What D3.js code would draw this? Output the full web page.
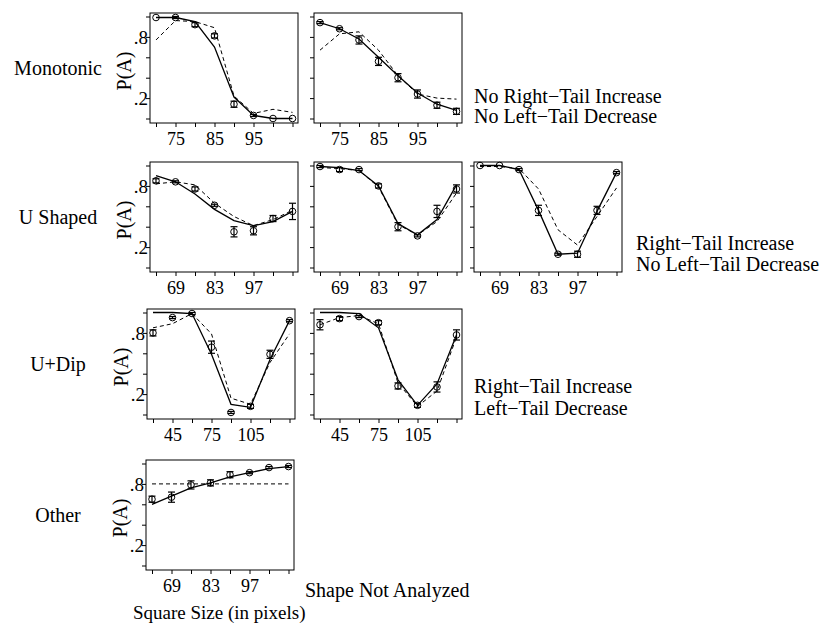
<!DOCTYPE html>
<html>
<head>
    <script src="https://d3js.org/d3.v7.min.js"></script>
    <style>
        body { margin: 0; background: #fff; }
        text { font-family: "Liberation Serif", "Times New Roman", serif; fill: #000; }
        .axis path.domain { display: none; }
        .axis line { stroke: #000; stroke-width: 1px; }
        .axis text { font-size: 18px; }
    </style>
</head>
<body>
    <svg width="824" height="627"></svg>

    <script>
        const svg = d3.select("svg");

        // x values (square size in pixels) for each row of panels
        const xMono = [70, 75, 80, 85, 90, 95, 100, 105];
        const xU = [62, 69, 76, 83, 90, 97, 104, 111];
        const xDip = [30, 45, 60, 75, 90, 105, 120, 135];

        // labelled x ticks
        const monoTickLabels = [75, 85, 95];
        const uTickLabels = [69, 83, 97];
        const dipTickLabels = [45, 75, 105];

        const yTicks = [0, 0.2, 0.4, 0.6, 0.8, 1];
        const yTickLabels = [0.2, 0.8];

        // Monotonic, panel 1
        const m1Obs = [0.99, 0.99, 0.92, 0.81, 0.14, 0.03, 0.00, 0.00];
        const m1Err = [0, 0.01, 0.02, 0.02, 0.03, 0.01, 0, 0];
        const m1Solid = [0.99, 0.99, 0.95, 0.70, 0.21, 0.03, 0.00, 0.00];
        const m1Dashed = [0.77, 0.96, 0.95, 0.89, 0.22, 0.05, 0.09, 0.06];

        // Monotonic, panel 2
        const m2Obs = [0.94, 0.88, 0.77, 0.56, 0.40, 0.24, 0.13, 0.07];
        const m2Err = [0.01, 0.01, 0.04, 0.04, 0.04, 0.04, 0.03, 0.03];
        const m2Solid = [0.94, 0.88, 0.78, 0.60, 0.42, 0.25, 0.14, 0.08];
        const m2Dashed = [0.67, 0.83, 0.85, 0.67, 0.42, 0.24, 0.20, 0.19];

        // U shaped, panels 1-3
        const u1Obs = [0.85, 0.84, 0.77, 0.61, 0.35, 0.36, 0.48, 0.55];
        const u1Err = [0.02, 0.01, 0.02, 0.01, 0.05, 0.04, 0.03, 0.08];
        const u1Solid = [0.90, 0.84, 0.72, 0.57, 0.46, 0.41, 0.45, 0.55];
        const u1Dashed = [0.82, 0.84, 0.81, 0.63, 0.50, 0.41, 0.47, 0.56];

        const u2Obs = [0.99, 0.96, 0.96, 0.80, 0.40, 0.31, 0.55, 0.77];
        const u2Err = [0.01, 0.02, 0.01, 0.02, 0.04, 0.01, 0.06, 0.04];
        const u2Solid = [0.99, 0.98, 0.95, 0.80, 0.43, 0.32, 0.47, 0.81];
        const u2Dashed = [0.98, 0.97, 0.95, 0.79, 0.42, 0.32, 0.45, 0.73];

        const u3Obs = [1.00, 1.00, 0.96, 0.56, 0.13, 0.13, 0.56, 0.93];
        const u3Err = [0, 0, 0.01, 0.05, 0.01, 0.03, 0.04, 0.01];
        const u3Solid = [1.00, 1.00, 0.96, 0.56, 0.13, 0.14, 0.55, 0.93];
        const u3Dashed = [0.99, 0.99, 0.97, 0.77, 0.37, 0.22, 0.50, 0.78];

        // U+Dip, panels 1-2
        const d1Obs = [0.80, 0.95, 0.99, 0.66, 0.02, 0.08, 0.59, 0.92];
        const d1Err = [0.03, 0.01, 0.01, 0.06, 0.01, 0.02, 0.04, 0.01];
        const d1Solid = [1.00, 1.00, 0.99, 0.59, 0.10, 0.07, 0.54, 0.92];
        const d1Dashed = [0.85, 0.89, 0.99, 0.79, 0.16, 0.10, 0.51, 0.79];

        const d2Obs = [0.88, 0.94, 0.96, 0.90, 0.28, 0.09, 0.27, 0.78];
        const d2Err = [0.05, 0.02, 0.01, 0.02, 0.03, 0.02, 0.05, 0.05];
        const d2Solid = [1.00, 1.00, 0.99, 0.85, 0.34, 0.09, 0.30, 0.78];
        const d2Dashed = [0.88, 0.95, 0.97, 0.89, 0.31, 0.08, 0.23, 0.76];

        // Other
        const o1Obs = [0.65, 0.67, 0.79, 0.81, 0.89, 0.91, 0.96, 0.97];
        const o1Err = [0.03, 0.05, 0.04, 0.03, 0.03, 0.01, 0.01, 0.01];
        const o1Solid = [0.60, 0.68, 0.76, 0.81, 0.87, 0.91, 0.95, 0.97];
        const o1Dashed = [0.80, 0.80, 0.80, 0.80, 0.80, 0.80, 0.80, 0.80];

        const rowLabels = ["Monotonic", "U Shaped", "U+Dip", "Other"];

        // layout
        const rowTop = [13, 162, 309, 460];
        const boxH = 110, boxW = 148;

        const panels = [
            { row: 0, left: 150, xs: xMono, labels: monoTickLabels, obs: m1Obs, err: m1Err, solid: m1Solid, dashed: m1Dashed, yAxisText: true },
            { row: 0, left: 314, xs: xMono, labels: monoTickLabels, obs: m2Obs, err: m2Err, solid: m2Solid, dashed: m2Dashed },
            { row: 1, left: 150, xs: xU, labels: uTickLabels, obs: u1Obs, err: u1Err, solid: u1Solid, dashed: u1Dashed, yAxisText: true },
            { row: 1, left: 314, xs: xU, labels: uTickLabels, obs: u2Obs, err: u2Err, solid: u2Solid, dashed: u2Dashed },
            { row: 1, left: 474, xs: xU, labels: uTickLabels, obs: u3Obs, err: u3Err, solid: u3Solid, dashed: u3Dashed },
            { row: 2, left: 147, xs: xDip, labels: dipTickLabels, obs: d1Obs, err: d1Err, solid: d1Solid, dashed: d1Dashed, yAxisText: true },
            { row: 2, left: 314, xs: xDip, labels: dipTickLabels, obs: d2Obs, err: d2Err, solid: d2Solid, dashed: d2Dashed },
            { row: 3, left: 146, xs: xU, labels: uTickLabels, obs: o1Obs, err: o1Err, solid: o1Solid, dashed: o1Dashed, yAxisText: true }
        ];

        panels.forEach(p => {
            const g = svg.append("g")
                .attr("transform", `translate(${p.left}, ${rowTop[p.row]})`);

            const x = d3.scaleLinear()
                .domain([p.xs[0], p.xs[p.xs.length - 1]])
                .range([6, boxW - 5.5]);
            const y = d3.scaleLinear().domain([0, 1]).range([boxH - 4.5, 3.5]);

            g.append("rect")
                .attr("width", boxW).attr("height", boxH)
                .attr("fill", "none").attr("stroke", "#000").attr("stroke-width", 1);

            g.append("g")
                .attr("class", "axis")
                .attr("transform", `translate(0, ${boxH})`)
                .call(d3.axisBottom(x)
                    .tickValues(p.xs)
                    .tickSize(4)
                    .tickPadding(5)
                    .tickFormat(d => p.labels.includes(d) ? d : ""));

            g.append("g")
                .attr("class", "axis")
                .call(d3.axisLeft(y).tickValues(yTicks).tickSize(4).tickFormat(""));

            if (p.yAxisText) {
                g.selectAll("text.ylab")
                    .data(yTickLabels)
                    .enter().append("text")
                    .attr("class", "ylab")
                    .attr("x", -2)
                    .attr("y", d => y(d) + 7)
                    .attr("text-anchor", "end")
                    .attr("font-size", "19px")
                    .text(d => String(d).replace("0.", "."));

                g.append("text")
                    .attr("transform", `translate(-19, ${boxH / 2 + 3}) rotate(-90)`)
                    .attr("text-anchor", "middle")
                    .attr("font-size", "20px")
                    .text("P(A)");
            }

            const line = d3.line()
                .x((d, i) => x(p.xs[i]))
                .y(d => y(d));

            g.append("path")
                .datum(p.dashed)
                .attr("d", line)
                .attr("fill", "none")
                .attr("stroke", "#000")
                .attr("stroke-width", 1)
                .attr("stroke-dasharray", "4,3");

            g.append("path")
                .datum(p.solid)
                .attr("d", line)
                .attr("fill", "none")
                .attr("stroke", "#000")
                .attr("stroke-width", 1.3);

            // error bars
            const bars = p.obs.map((v, i) => ({ x: p.xs[i], v, e: p.err[i] })).filter(d => d.e > 0.005);
            const eb = g.selectAll("g.eb").data(bars).enter().append("g").attr("class", "eb")
                .attr("stroke", "#000").attr("stroke-width", 1.2);
            eb.append("line")
                .attr("x1", d => x(d.x)).attr("x2", d => x(d.x))
                .attr("y1", d => y(d.v - d.e)).attr("y2", d => y(d.v + d.e));
            eb.append("line")
                .attr("x1", d => x(d.x) - 3.5).attr("x2", d => x(d.x) + 3.5)
                .attr("y1", d => y(d.v - d.e)).attr("y2", d => y(d.v - d.e));
            eb.append("line")
                .attr("x1", d => x(d.x) - 3.5).attr("x2", d => x(d.x) + 3.5)
                .attr("y1", d => y(d.v + d.e)).attr("y2", d => y(d.v + d.e));

            g.selectAll("circle")
                .data(p.obs)
                .enter().append("circle")
                .attr("cx", (d, i) => x(p.xs[i]))
                .attr("cy", d => y(d))
                .attr("r", 3.3)
                .attr("fill", "none")
                .attr("stroke", "#000")
                .attr("stroke-width", 1);
        });

        // row labels
        svg.selectAll("text.row")
            .data(rowLabels)
            .enter().append("text")
            .attr("class", "row")
            .attr("x", 58)
            .attr("y", (d, i) => rowTop[i] + boxH / 2 + 7)
            .attr("text-anchor", "middle")
            .attr("font-size", "20px")
            .text(d => d);

        // shape notes
        const notes = [
            { x: 474, y: 103, t: "No Right\u2212Tail Increase" },
            { x: 474, y: 123, t: "No Left\u2212Tail Decrease" },
            { x: 636, y: 250, t: "Right\u2212Tail Increase" },
            { x: 636, y: 271, t: "No Left\u2212Tail Decrease" },
            { x: 474, y: 393, t: "Right\u2212Tail Increase" },
            { x: 474, y: 415, t: "Left\u2212Tail Decrease" },
            { x: 305, y: 597, t: "Shape Not Analyzed" }
        ];
        svg.selectAll("text.note")
            .data(notes)
            .enter().append("text")
            .attr("class", "note")
            .attr("x", d => d.x)
            .attr("y", d => d.y)
            .attr("font-size", "20px")
            .text(d => d.t);

        svg.append("text")
            .attr("x", 133)
            .attr("y", 619)
            .attr("font-size", "19px")
            .text("Square Size (in pixels)");
    </script>
</body>
</html>
